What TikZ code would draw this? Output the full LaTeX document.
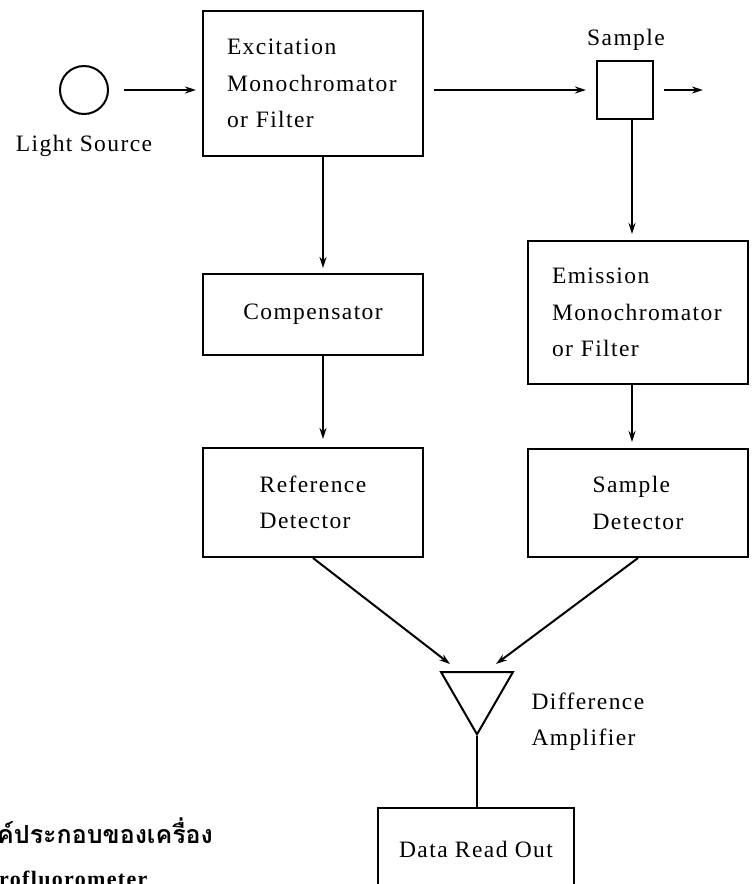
\documentclass[tikz,border=0pt]{standalone}
\usepackage{fontspec}
\setmainfont[LetterSpace=6]{Liberation Serif}
\newfontfamily\thaifont[Script=Thai]{Loma}
\usetikzlibrary{arrows.meta,shapes.geometric}

\begin{document}
\begin{tikzpicture}[x=1pt, y=-1pt,
		box/.style={draw, line width=2pt, inner sep=0pt},
		txt/.style={font=\fontsize{23.5}{36.5}\selectfont, align=left},
		arr/.style={line width=2pt, -{Stealth[length=11pt, width=7pt]}},
		wire/.style={line width=2pt}]
		%%%%% START %%%%%
		
		\useasboundingbox (0,0) rectangle (752,884);
		\clip (0,0) rectangle (752,884);
		
		\node[draw, circle, line width=2pt, minimum size=48pt, inner sep=0pt] (src) at (84,90) {};
		\node[txt] (srclbl) at (84,146) {Light Source};
		\node[box, txt, text width=172pt, minimum width=220pt, minimum height=145pt] (exc) at (313,83.5) {Excitation\\Monochromator\\or Filter};
		
		\node[txt] (smplbl) at (626,40) {Sample};
		\node[box, minimum width=56pt, minimum height=58pt] (smp) at (625,90) {};
		\coordinate (out) at (703,90);
		
		\node[box, txt, minimum width=220pt, minimum height=81pt] (comp) at (313,314.5) {Compensator};
		\node[box, txt, text width=172pt, minimum width=220pt, minimum height=143pt] (emi) at (638,312.5) {Emission\\Monochromator\\or Filter};
		
		\node[box, txt, minimum width=220pt, minimum height=109pt] (rdet) at (313,502.5) {Reference\\Detector};
		\node[box, txt, minimum width=220pt, minimum height=108pt] (sdet) at (638,503) {Sample\\Detector};
		
		\node[draw, regular polygon, regular polygon sides=3, shape border rotate=180, minimum size=83pt, inner sep=0pt, line width=2pt] (amp) at (477,692.8) {};
		\node[txt, anchor=west] (amplbl) at (528,721.5) {Difference\\Amplifier};
		\coordinate (inL) at (450,664);
		\coordinate (inR) at (496,664);
		
		\node[box, txt, minimum width=196pt, minimum height=82pt] (data) at (476,849) {Data Read Out};
		
		\node[anchor=base west, inner sep=0pt, font=\thaifont\bfseries\fontsize{25}{28}\selectfont] (cap1) at (-3,843) {ค์ประกอบของเครื่อง};
		\node[anchor=base west, inner sep=0pt, font=\bfseries\fontsize{22}{24}\selectfont] (cap2) at (-1,886) {rofluorometer};
		
		%%%%% ARROWS %%%%%
		
		\draw[arr, shorten <=15pt, shorten >=6pt] (src) -- (src -| exc.west);
		\draw[arr, shorten <=10pt, shorten >=10pt] (exc.east |- smp) -- (smp);
		\draw[arr, shorten <=10pt] (smp) -- (out);
		
		\draw[arr, shorten >=5pt] ([xshift=10pt]exc.south) -- ([xshift=10pt]comp.north);
		\draw[arr, shorten >=8pt] ([xshift=10pt]comp.south) -- ([xshift=10pt]rdet.north);
		\draw[arr, shorten >=6pt] ([xshift=7pt]smp.south) -- ([xshift=-6pt]emi.north);
		\draw[arr, shorten >=6pt] ([xshift=-6pt]emi.south) -- ([xshift=-6pt]sdet.north);
		
		\draw[arr] (rdet.south) -- (inL);
		\draw[arr] (sdet.south) -- (inR);
		\draw[wire] (amp.corner 1) -- (amp.corner 1 |- data.north);
		
		%%%%% END %%%%%
	\end{tikzpicture}
\end{document}
